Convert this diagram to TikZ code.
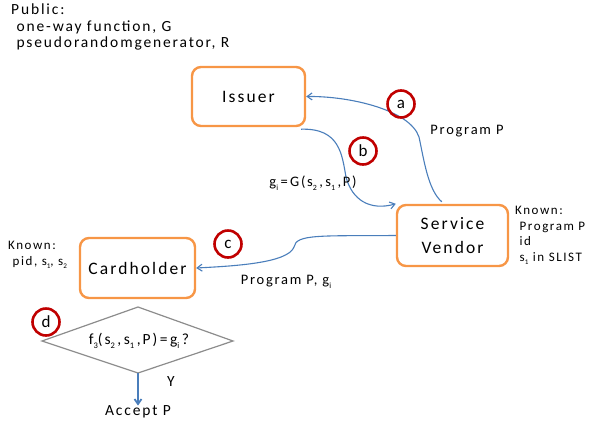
\documentclass[tikz,border=0pt]{standalone}
\usepackage{fontspec}
\setmainfont{Carlito}[LetterSpace=12]
\usetikzlibrary{arrows.meta}
\definecolor{boxor}{HTML}{F79646}
\definecolor{arrbl}{HTML}{4A7EBB}
\definecolor{circred}{HTML}{C00000}
\definecolor{dgray}{HTML}{8C8C8C}
\newcommand\sbs[1]{\raisebox{-0.5ex}{\scalebox{0.55}{#1}}}
\tikzset{
  entity/.style={draw=boxor, line width=2.4pt, rounded corners=9pt, align=center, inner sep=0pt, font=\fontsize{17.5}{24}\selectfont},
  tag/.style={circle, draw=circred, line width=2.6pt, minimum size=27pt, inner sep=0pt, font=\fontsize{17}{17}\selectfont},
  flow/.style={draw=arrbl, line width=1.1pt, -{Straight Barb[length=5pt,width=7pt]}},
  lbl/.style={font=\fontsize{14.5}{16}\selectfont, inner sep=0pt},
  small/.style={font=\fontsize{13}{15.5}\selectfont, align=left, inner sep=0pt}
}
\begin{document}
\begin{tikzpicture}[x=1pt,y=-1pt]
\useasboundingbox (0,0) rectangle (593,429);
% public
\node[anchor=north west, align=left, inner sep=0pt, font=\fontsize{15.5}{16.2}\selectfont] (pub) at (11,4) {Public:\\\ one-way function, G\\\ pseudorandomgenerator, R};
% boxes
\node[entity, minimum width=113pt, minimum height=59pt] (iss) at (248.5,96.5) {Issuer};
\node[entity, minimum width=111pt, minimum height=61pt] (sv) at (452.5,235.5) {Service\\Vendor};
\node[entity, minimum width=115pt, minimum height=60pt] (ch) at (137.5,268) {Cardholder};
% known texts
\node[small, anchor=north west] (ksv) at (515,206) {Known:\\\ Program P\\\ id\\\ s\sbs{1} in SLIST};
\node[small, anchor=north west] (kch) at (8,241) {Known:\\\ pid, s\sbs{1}, s\sbs{2}};
% arrows
\draw[flow] (sv.north west) ++(46,-2) coordinate (aS)
  .. controls (428,190) and (424,160) .. (419,137)
  .. controls (410,110) and (350,96) .. (iss.east);
\draw[flow] (iss.south east) ++(-5,2) coordinate (bS)
  .. controls (340,128) and (342,155) .. (346,177)
  .. controls (352,200) and (370,211) .. (sv.north west);
\draw[flow] (sv.west) coordinate (cS)
  .. controls (320,236) and (296,234) .. (294,247)
  .. controls (288,263) and (235,266) .. (ch.east);
% labels
\node[lbl] (lp) at (467,131) {Program P};
\node[lbl] (lg) at (313,183) {g\sbs{i}\,=\,G(s\sbs{2}\,,\,s\sbs{1}\,,P)};
\node[lbl] (lpg) at (286,282) {Program P, g\sbs{i}};
% tags
\node[tag] (ta) at (401,104) {a};
\node[tag] (tb) at (363,151) {b};
\node[tag] (tc) at (228,244) {c};
\node[tag] (td) at (46,322) {d};
% decision
\coordinate (dl) at (42,341);
\coordinate (dt) at (138,307);
\coordinate (dr) at (233,341);
\coordinate (db) at (138,373);
\draw[dgray, line width=1.2pt] (dl) -- (dt) -- (dr) -- (db) -- cycle;
\node[lbl, font=\fontsize{15.5}{16}\selectfont] (dec) at (139,341) {f\sbs{3}(s\sbs{2}\,,\,s\sbs{1}\,,P)\,=\,g\sbs{i}\,?};
\node[lbl, font=\fontsize{15.5}{16}\selectfont] (acc) at (138,412) {Accept P};
\node[lbl, font=\fontsize{15.5}{16}\selectfont] (ly) at (171,382) {Y};
\draw[flow, line width=1.8pt] (db) -- (acc.north);
\end{tikzpicture}
\end{document}
